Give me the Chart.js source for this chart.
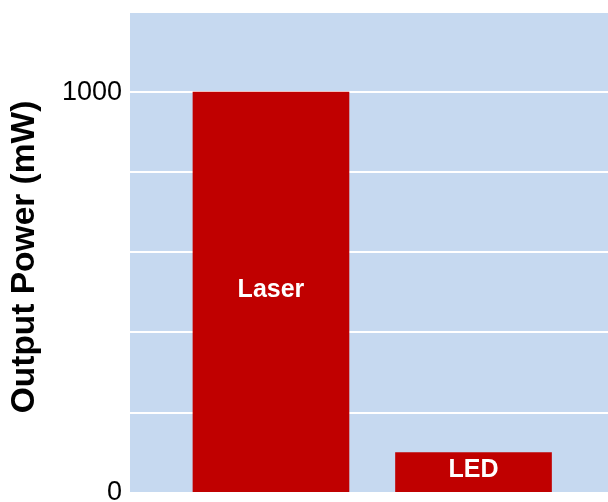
<!DOCTYPE html>
<html>
<head>
<meta charset="utf-8">
<script src="https://cdn.jsdelivr.net/npm/chart.js@4.4.1/dist/chart.umd.min.js"></script>
<style>
  html, body { margin: 0; padding: 0; background: #fff; }
  #wrap { width: 608px; height: 502px; }
</style>
</head>
<body>
<div id="wrap"><canvas id="chart"></canvas></div>
<script>
const categories = ['Laser', 'LED'];
const powerValues = [1000, 100]; // mW
const shownTicks = [0, 1000];

const plotBlue = '#c6d9f0';
const barRed = '#c00000';

// light blue plot background
const plotBackground = {
  id: 'plotBackground',
  beforeDraw(chart) {
    const { ctx, chartArea } = chart;
    ctx.save();
    ctx.fillStyle = plotBlue;
    ctx.fillRect(chartArea.left, chartArea.top, chartArea.right - chartArea.left, chartArea.bottom - chartArea.top);
    ctx.restore();
  },
};

// category names written inside each bar
const barLabels = {
  id: 'barLabels',
  afterDatasetsDraw(chart) {
    const { ctx } = chart;
    const meta = chart.getDatasetMeta(0);
    ctx.save();
    ctx.fillStyle = '#fff';
    ctx.font = 'bold 25px "Liberation Sans", Arial, sans-serif';
    ctx.textAlign = 'center';
    ctx.textBaseline = 'middle';
    meta.data.forEach((bar, i) => {
      const mid = (bar.y + bar.base) / 2 - 2;
      ctx.fillText(categories[i], bar.x, mid);
    });
    ctx.restore();
  },
};

const ctx = document.getElementById('chart').getContext('2d');
new Chart(ctx, {
  type: 'bar',
  data: {
    datasets: [{
      data: powerValues.map((v, i) => ({ x: i + 1, y: v })),
      backgroundColor: barRed,
      borderWidth: 0,
      barThickness: 156,
    }],
  },
  options: {
    responsive: true,
    maintainAspectRatio: false,
    animation: false,
    layout: { padding: { top: 12, bottom: 9, right: 0, left: 0 } },
    plugins: {
      legend: { display: false },
      tooltip: { enabled: false },
    },
    scales: {
      x: {
        type: 'linear',
        offset: false,
        min: 0.304,
        max: 2.664,
        display: false,
      },
      y: {
        min: 0,
        max: 1200,
        border: { display: false },
        grid: { color: '#ffffff', lineWidth: 2, drawTicks: false },
        ticks: {
          stepSize: 200,
          padding: 8,
          color: '#000',
          font: { family: '"Liberation Sans", Arial, sans-serif', size: 27, lineHeight: 0.1 },
          callback: (v) => (shownTicks.includes(v) ? String(v) : ''),
        },
        title: {
          display: true,
          text: 'Output Power (mW) ', // trailing space nudges it down a little
          color: '#000',
          font: { family: '"Liberation Sans", Arial, sans-serif', size: 33.5, weight: 'bold' },
          padding: { top: 5, bottom: 0 },
        },
        afterFit(scale) { scale.width = 130; },
      },
    },
  },
  plugins: [plotBackground, barLabels],
});
</script>
</body>
</html>
